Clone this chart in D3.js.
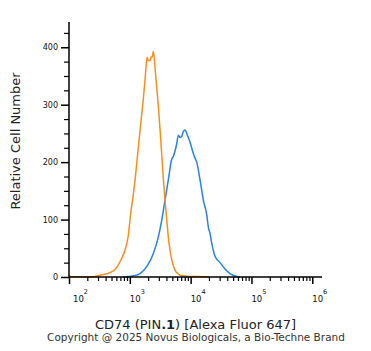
<!DOCTYPE html>
<html>
<head>
<meta charset="utf-8">
<script src="https://d3js.org/d3.v7.min.js"></script>
<style>
  body { margin: 0; background: #fff; }
  text { font-family: "DejaVu Sans", sans-serif; }
</style>
</head>
<body>
<div id="main"></div>
<script>
// isotype control (orange) : intensity, count
var isoIntensity = [100, 108, 221, 324, 472, 571, 647, 716, 834, 944, 1035, 1130, 1219, 1384, 1574,
    1667, 1778, 1884, 1941, 2014, 2148, 2259, 2344, 2438, 2594, 2767, 2944, 3221, 3556, 4046,
    4295, 4581, 4943, 5534, 6281, 7228, 9772, 16000, 20840];
var isoCount = [3, 0.5, 0, 3, 7.5, 13, 21, 30, 47, 72, 111, 140, 169, 227, 285,
    310, 343, 375, 382, 377, 377, 384, 383, 393, 365, 331, 298, 240, 172, 100,
    70, 47, 28, 12, 5, 2, 1, 0.5, 0];

// CD74 stained (blue)
var cd74Intensity = [782, 1143, 1472, 1897, 2438, 2944, 3350, 3793, 4295, 4887, 5188, 5902, 6281,
    6699, 7145, 7586, 8091, 8831, 9772, 10840, 11800, 12590, 14290, 16180, 18410, 19540,
    20840, 22230, 25180, 30480, 36810, 44460, 57280, 64860];
var cd74Count = [0, 2, 6, 18, 41, 70, 99, 134, 169, 205, 210, 232, 247,
    243, 245, 253, 256, 247, 235, 218, 207, 200, 169, 134, 108, 87,
    76, 59, 36, 25, 14, 6, 1, 0];

var yMajorTicks = [0, 100, 200, 300, 400];
var xDecades = [2, 3, 4, 5, 6];

var ctx = {
    w: 371,
    h: 351,
    left: 69,
    right: 322,
    top: 22,
    bottom: 277,
    ORANGE: "#f4901e",
    BLUE: "#2783e6",
};

var createViz = function(){
    var svgEl = d3.select("#main").append("svg")
        .attr("width", ctx.w)
        .attr("height", ctx.h);

    var x = d3.scaleLog().domain([100, Math.pow(10, 6.16)]).range([ctx.left, ctx.right]);
    var y = d3.scaleLinear().domain([0, 444]).range([ctx.bottom, ctx.top]);

    // curves
    var line = d3.line()
        .x(d => x(d[0]))
        .y(d => y(d[1]))
        .curve(d3.curveMonotoneX);

    var iso = d3.zip(isoIntensity, isoCount);
    var cd74 = d3.zip(cd74Intensity, cd74Count);

    svgEl.append("path").datum(cd74)
        .attr("d", line)
        .attr("fill", "none")
        .attr("stroke", ctx.BLUE)
        .attr("stroke-width", 1.5);

    svgEl.append("path").datum(iso)
        .attr("d", line)
        .attr("fill", "none")
        .attr("stroke", ctx.ORANGE)
        .attr("stroke-width", 1.5);

    // y axis
    var yMinor = d3.range(0, 444, 25).filter(v => v % 100 != 0);
    svgEl.append("g")
        .attr("transform", "translate(" + ctx.left + ",0)")
        .call(d3.axisLeft(y).tickValues(yMinor).tickSize(5).tickFormat(""))
        .call(g => g.select(".domain").remove())
        .call(g => g.selectAll("line").attr("stroke-width", 1.2));
    var yAx = svgEl.append("g")
        .attr("transform", "translate(" + ctx.left + ",0)")
        .call(d3.axisLeft(y).tickValues(yMajorTicks).tickSize(8).tickPadding(3));
    yAx.select(".domain").attr("d", "M0," + ctx.top + "V" + ctx.bottom);
    yAx.selectAll("line").attr("stroke-width", 1.5);
    yAx.select(".domain").attr("stroke-width", 1.5);
    yAx.selectAll("text").attr("font-size", 8).attr("fill", "#111")
        .attr("font-family", "DejaVu Sans");

    // x axis
    var xMinor = [];
    xDecades.slice(0, -1).forEach(p => {
        for (var k = 2; k < 10; k++) xMinor.push(k * Math.pow(10, p));
    });
    svgEl.append("g")
        .attr("transform", "translate(0," + ctx.bottom + ")")
        .call(d3.axisBottom(x).tickValues(xMinor).tickSize(4).tickFormat(""))
        .call(g => g.select(".domain").remove())
        .call(g => g.selectAll("line").attr("stroke-width", 1.2));
    var xAx = svgEl.append("g")
        .attr("transform", "translate(0," + ctx.bottom + ")")
        .call(d3.axisBottom(x).tickValues(xDecades.map(p => Math.pow(10, p))).tickSize(7).tickFormat(""));
    xAx.select(".domain").attr("d", "M" + ctx.left + ",0H" + ctx.right).attr("stroke-width", 1.5);
    xAx.selectAll("line").attr("stroke-width", 1.5);

    // decade labels 10^n
    xDecades.forEach((p, i) => {
        var t = svgEl.append("text")
            .attr("x", x(Math.pow(10, p)) + (i == 0 ? 4 : 0))
            .attr("y", 302)
            .attr("font-size", 8.5)
            .attr("fill", "#111");
        t.append("tspan").text("10");
        t.append("tspan").attr("dy", -8).attr("font-size", 6.5).text(p);
    });

    // axis titles
    svgEl.append("text")
        .attr("transform", "translate(20,141) rotate(-90)")
        .attr("text-anchor", "middle")
        .attr("font-size", 13)
        .attr("fill", "#222")
        .text("Relative Cell Number");

    var xt = svgEl.append("text")
        .attr("x", (ctx.left + ctx.right) / 2)
        .attr("y", 329)
        .attr("text-anchor", "middle")
        .attr("font-size", 13)
        .attr("fill", "#222");
    xt.append("tspan").text("CD74 (PIN");
    xt.append("tspan").attr("font-weight", "bold").text(".1");
    xt.append("tspan").text(") [Alexa Fluor 647]");

    svgEl.append("text")
        .attr("x", 196)
        .attr("y", 341)
        .attr("text-anchor", "middle")
        .attr("font-size", 10.5)
        .attr("fill", "#333")
        .text("Copyright @ 2025 Novus Biologicals, a Bio-Techne Brand");
};

createViz();
</script>
</body>
</html>
